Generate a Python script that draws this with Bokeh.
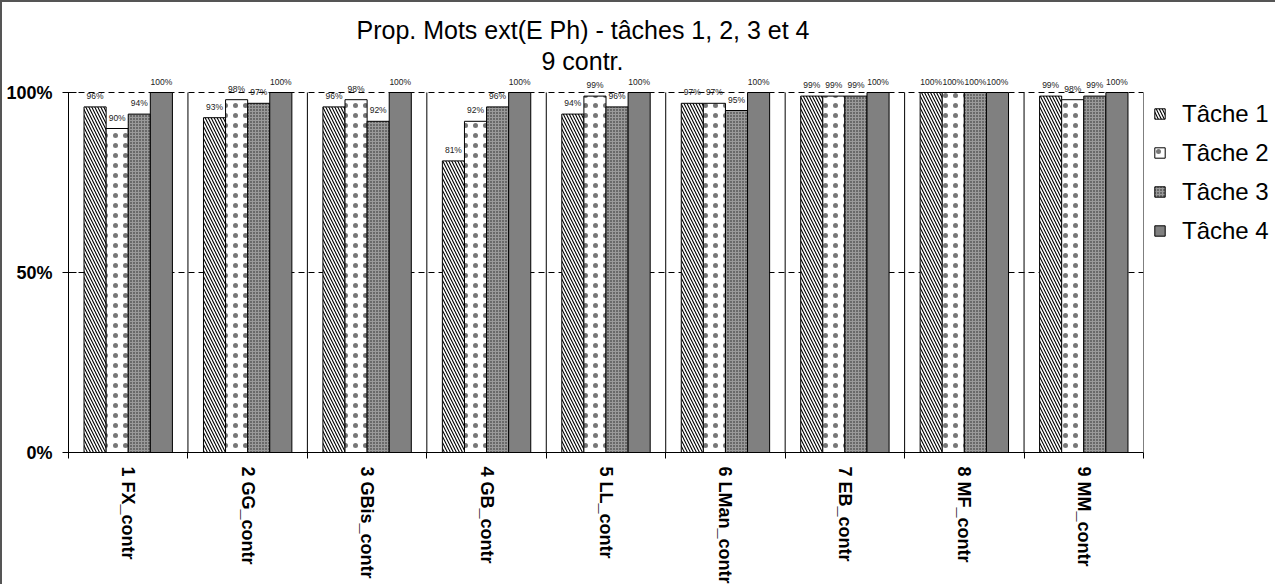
import math
from bokeh.plotting import figure
from bokeh.models import (Range1d, FixedTicker, Legend, LegendItem, Title,
                          ColumnDataSource)
from bokeh.core.properties import value
from bokeh.embed import file_html
from bokeh.resources import INLINE

# ---------------- data ----------------
categories = ["1 FX_contr", "2 GG_contr", "3 GBis_contr", "4 GB_contr",
              "5 LL_contr", "6 LMan_contr", "7 EB_contr", "8 MF_contr",
              "9 MM_contr"]
series_names = ["Tâche 1", "Tâche 2", "Tâche 3", "Tâche 4"]
tache1 = [96, 93, 96, 81, 94, 97, 99, 100, 99]
tache2 = [90, 98, 98, 92, 99, 97, 99, 100, 98]
tache3 = [94, 97, 92, 96, 96, 95, 99, 100, 99]
tache4 = [100, 100, 100, 100, 100, 100, 100, 100, 100]
y_ticks = [0, 50, 100]
y_tick_labels = ["0%", "50%", "100%"]
title_line1 = "Prop. Mots ext(E Ph) - tâches 1, 2, 3 et 4"
title_line2 = "9 contr."

FONT = "Liberation Sans"
n = len(categories)

p = figure(frame_width=1075, frame_height=378,
           x_range=Range1d(0, n), y_range=Range1d(0, 105),
           output_backend="svg", toolbar_location=None, title=None,
           min_border_left=68, min_border_top=74, min_border_bottom=130,
           min_border_right=131)
p.outline_line_color = None
p.background_fill_color = "white"
p.border_fill_color = None
p.styles = {"box-shadow": "inset 0 0 0 2px #555", "background": "white"}

# ---------------- bars ----------------
offsets = [-0.2775, -0.0925, 0.0925, 0.2775]
bar_w = 0.185
styles = [
    dict(fill_color="white", hatch_pattern="left_diagonal_line", hatch_scale=6,
         hatch_weight=1.1, hatch_color="black"),
    dict(fill_color="white", hatch_pattern="dot", hatch_scale=10,
         hatch_weight=1, hatch_color="#555555", hatch_alpha=0.8),
    dict(fill_color="#9a9a9a", hatch_pattern="dot", hatch_scale=3,
         hatch_weight=1, hatch_color="#202020"),
    dict(fill_color="#808080"),
]
all_vals = [tache1, tache2, tache3, tache4]
renderers = []
for k, (name, vals) in enumerate(zip(series_names, all_vals)):
    xs = [i + 0.5 + offsets[k] for i in range(n)]
    src = ColumnDataSource(dict(x=xs, top=vals, label=[f"{v}%" for v in vals]))
    r = p.vbar(x="x", top="top", width=bar_w, source=src,
               line_color="black", line_width=1, **styles[k])
    renderers.append(r)
    p.text(x="x", y="top", text="label", source=src, text_align="center",
           text_baseline="middle", y_offset=-11, text_font=value(FONT),
           text_font_size="8.5px", text_color="#222222")

# category separators and right border
sep_x = list(range(1, n + 1))
p.segment(x0=sep_x, y0=[0] * len(sep_x), x1=sep_x, y1=[100] * len(sep_x),
          line_color="black", line_width=1)

# ---------------- axes ----------------
p.xgrid.visible = False
p.ygrid.ticker = FixedTicker(ticks=[50, 100])
p.ygrid.grid_line_color = "black"
p.ygrid.grid_line_dash = "6 4"
p.ygrid.grid_line_width = 1

xa = p.xaxis[0]
xa.ticker = FixedTicker(ticks=[i + 0.5 for i in range(n)],
                        minor_ticks=list(range(n + 1)))
xa.major_label_overrides = {i + 0.5: c for i, c in enumerate(categories)}
xa.major_tick_line_color = None
xa.major_tick_out = 6
xa.major_tick_in = 0
xa.minor_tick_line_color = "black"
xa.minor_tick_out = 6
xa.minor_tick_in = 0
xa.axis_line_color = "black"
xa.major_label_orientation = -math.pi / 2
xa.major_label_standoff = 8
xa.major_label_text_font = FONT
xa.major_label_text_font_style = "bold"
xa.major_label_text_font_size = "18px"
xa.major_label_text_color = "black"

ya = p.yaxis[0]
ya.ticker = FixedTicker(ticks=y_ticks)
ya.major_label_overrides = {t: l for t, l in zip(y_ticks, y_tick_labels)}
ya.bounds = (0, 100)
ya.major_tick_in = 8
ya.major_tick_out = 6
ya.major_tick_line_color = "black"
ya.minor_tick_line_color = None
ya.axis_line_color = "black"
ya.major_label_standoff = 10
ya.major_label_text_font = FONT
ya.major_label_text_font_style = "bold"
ya.major_label_text_font_size = "18px"
ya.major_label_text_color = "black"

# ---------------- titles ----------------
p.add_layout(Title(text=title_line2, align="left", offset=473, standoff=0,
                   text_font=FONT, text_font_size="25px",
                   text_font_style="normal", text_color="black"), "above")
p.add_layout(Title(text=title_line1, align="left", offset=288, standoff=2,
                   text_font=FONT, text_font_size="25px",
                   text_font_style="normal", text_color="black"), "above")

# ---------------- legend ----------------
legend = Legend(
    items=[LegendItem(label=nm, renderers=[r]) for nm, r in zip(series_names, renderers)],
    location=(10, 202), orientation="vertical",
    label_text_font=FONT, label_text_font_size="24px", label_text_color="black",
    glyph_width=13, glyph_height=13, label_height=39, spacing=0,
    label_standoff=16, padding=0, margin=0,
    border_line_color=None, background_fill_alpha=0)
p.add_layout(legend, "right")

open("out.html", "w").write(file_html(p, INLINE))
